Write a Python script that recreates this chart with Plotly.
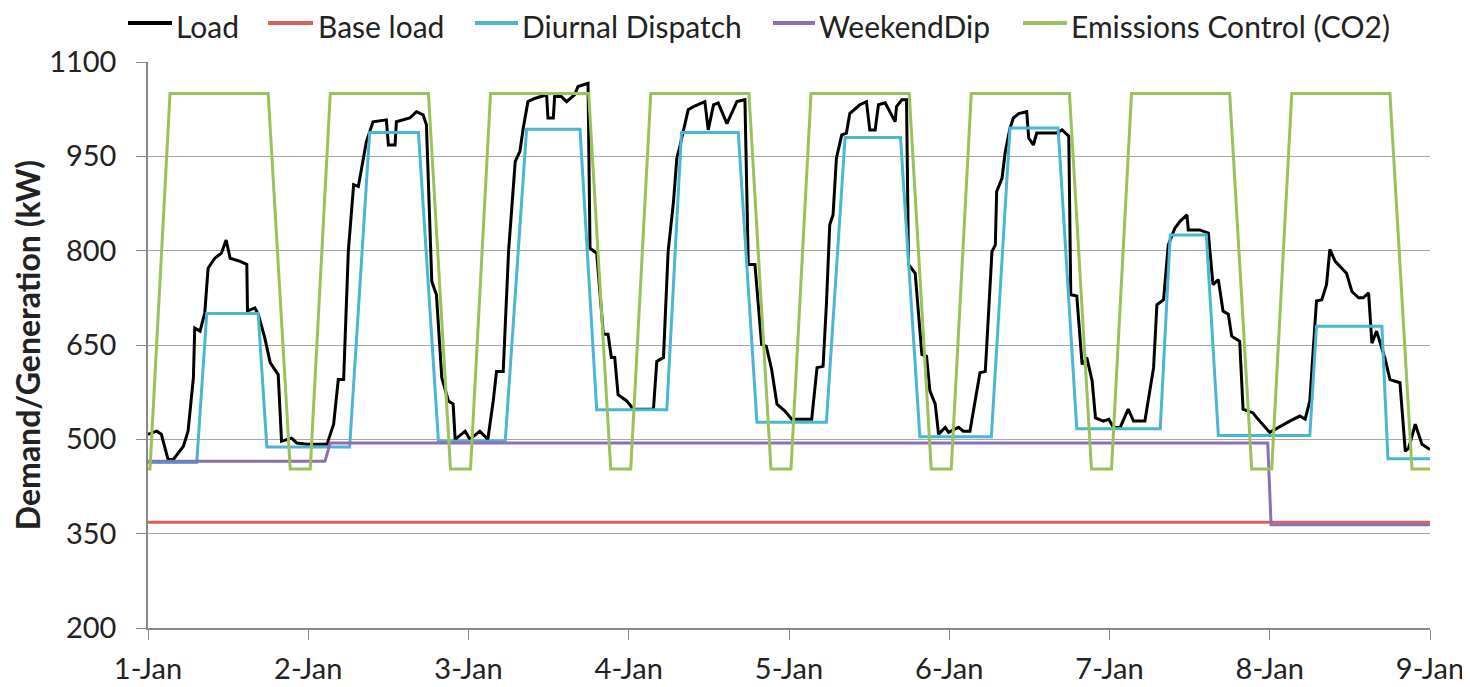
import pandas as pd
import plotly.graph_objects as go

# hours since 1-Jan 00:00 and kW values
load_hours = [
    0.0, 1.3, 2.0, 3.0, 3.8, 5.3, 6.0, 6.8, 7.0, 7.8, 8.5, 9.0, 10.0, 11.0, 11.7, 12.3,
    13.8, 14.8, 14.9, 16.0, 16.5, 17.5, 18.3, 19.5, 20.0, 21.5, 22.3, 23.8, 26.8, 27.8,
    28.5, 29.3, 30.0, 30.8, 31.5, 32.0, 32.7, 33.7, 35.7, 36.0, 37.0, 37.2, 39.2, 40.2,
    41.2, 41.7, 42.5, 43.2, 44.0, 45.0, 45.7, 46.0, 47.5, 48.2, 49.7, 50.9, 51.7, 52.2,
    53.2, 54.0, 54.2, 55.0, 55.7, 56.2, 56.9, 57.9, 59.7, 59.9, 60.7, 60.9, 61.9, 62.7,
    63.9, 64.4, 65.9, 66.2, 67.2, 68.2, 68.9, 69.4, 69.9, 70.4, 71.7, 72.7, 75.7, 76.2,
    77.2, 77.9, 78.7, 79.2, 79.7, 80.9, 81.7, 83.4, 83.9, 84.7, 85.4, 86.7, 88.2, 89.4,
    89.9, 90.9, 91.9, 92.6, 93.4, 94.2, 95.4, 96.4, 97.2, 99.4, 100.2, 101.1, 101.6,
    102.1, 102.6, 103.1, 103.9, 104.6, 105.1, 106.6, 107.6, 108.1, 108.9, 109.4, 110.4,
    111.1, 111.9, 112.1, 112.9, 113.6, 113.9, 114.9, 115.9, 116.6, 117.1, 117.9, 118.4,
    119.4, 119.9, 121.4, 122.1, 123.1, 123.9, 124.6, 125.4, 126.4, 126.9, 127.1, 127.9,
    128.4, 129.1, 129.6, 130.4, 131.6, 131.9, 132.6, 133.1, 136.1, 136.9, 137.9, 138.2,
    139.1, 139.9, 140.6, 141.4, 141.9, 143.1, 143.9, 144.6, 145.6, 146.8, 147.6, 149.3,
    150.1, 150.6, 151.1, 152.1, 152.8, 153.8, 154.6, 155.6, 155.8, 157.5, 158.8, 159.5,
    160.3, 161.0, 161.8, 162.3, 163.5, 164.0, 165.5, 166.0, 168.0, 169.3, 171.0, 172.5,
    173.3, 174.0, 175.0, 175.8, 176.5, 177.0, 177.8, 179.5, 180.3, 181.3, 182.0, 182.8,
    183.3, 184.0, 185.3, 186.0, 187.5, 188.3, 188.8, 189.8, 190.8, 192.0,
]
load_kw = [
    508, 513, 508, 468, 468, 489, 513, 598, 677, 672, 701, 772, 788, 796, 817, 788,
    783, 778, 704, 709, 699, 661, 622, 603, 497, 502, 494, 492, 492, 524,
    595, 595, 799, 905, 902, 934, 973, 1005, 1008, 968, 968, 1005, 1011, 1021,
    1016, 1000, 751, 730, 598, 561, 556, 500, 513, 500, 513, 500, 561, 608,
    608, 799, 825, 942, 958, 995, 1037, 1042, 1048, 1011, 1011, 1045, 1045, 1037,
    1048, 1061, 1066, 804, 796, 667, 667, 630, 630, 571, 561, 548, 548, 624,
    630, 799, 878, 947, 968, 1024, 1029, 1037, 992, 1032, 1035, 1002, 1037, 1040,
    778, 778, 651, 648, 611, 556, 545, 532, 532, 532, 614, 616, 714,
    841, 857, 947, 984, 987, 1018, 1032, 1037, 992, 992, 1032, 1035,
    1021, 1005, 1029, 1040, 1040, 778, 764, 635, 632, 577, 556, 508,
    519, 511, 519, 513, 513, 566, 606, 608, 799, 809, 894, 915,
    958, 995, 1011, 1018, 1021, 979, 968, 987, 987, 992, 982, 730,
    728, 619, 630, 593, 534, 529, 532, 519, 519, 548, 529, 529,
    582, 614, 714, 722, 809, 836, 847, 857, 833, 833, 828, 746,
    754, 704, 699, 664, 656, 548, 542, 535, 511, 519, 529, 537,
    532, 561, 720, 722, 746, 802, 783, 764, 735, 725, 725, 733,
    653, 672, 627, 595, 590, 481, 486, 524, 492, 484,
]

base_hours = [0, 192]
base_kw = [368, 368]

dispatch_hours = [
    0, 7.3, 8.8, 16.5, 17.8, 30.2, 33.2, 40.5, 43.5, 53.5, 56.7, 64.7, 67.2, 77.7,
    79.9, 88.4, 91.2, 101.6, 104.4, 112.7, 115.6, 126.3, 129.1, 136.3, 139.1, 151.6,
    153.1, 158.5, 160.3, 174.0, 175.0, 184.8, 185.7, 192,
]
dispatch_kw = [
    463, 463, 700, 700, 488, 488, 988, 988, 497, 497, 993, 993, 547, 547,
    988, 988, 527, 527, 980, 980, 504, 504, 995, 995, 517, 517,
    825, 825, 506, 506, 680, 680, 469, 469,
]

weekend_hours = [0, 26.5, 27.3, 167.7, 168.2, 192]
weekend_kw = [465, 465, 494, 494, 364, 364]

co2_hours = [
    0, 0.3, 3.3, 18, 21.3, 24.3, 27.3, 42, 45.3, 48.3, 51.3, 66, 69.3, 72.3, 75.3,
    90, 93.3, 96.3, 99.3, 114, 117.3, 120.3, 123.3, 138, 141.3, 144.3, 147.3, 162,
    165.3, 168.3, 171.3, 186, 189.3, 192,
]
co2_kw = [
    453, 453, 1050, 1050, 453, 453, 1050, 1050, 453, 453, 1050, 1050, 453, 453, 1050,
    1050, 453, 453, 1050, 1050, 453, 453, 1050, 1050, 453, 453, 1050, 1050,
    453, 453, 1050, 1050, 453, 453,
]

START = pd.Timestamp("2013-01-01")


def to_time(hours):
    return START + pd.to_timedelta(hours, unit="h")


series = [
    ("Load", load_hours, load_kw, "#000000"),
    ("Base load", base_hours, base_kw, "#D9625D"),
    ("Diurnal Dispatch", dispatch_hours, dispatch_kw, "#4BB5D2"),
    ("WeekendDip", weekend_hours, weekend_kw, "#8C70B5"),
    ("Emissions Control (CO2)", co2_hours, co2_kw, "#9BC25A"),
]

# page is drawn inside the body's 8px margin, so the figure is 8px smaller
# plot area: page x 148..1430, page y 62..628
PLOT_L, PLOT_W, PLOT_T, PLOT_H = 148, 1282, 62, 566
FIG_W, FIG_H = 1462, 679


def px_x(page_x):
    return (page_x - PLOT_L) / PLOT_W


def px_y(page_y):
    return (PLOT_T + PLOT_H - page_y) / PLOT_H


# legend drawn by hand to get Excel-like spacing: (sample start, sample end, text start)
legend_pos = [(128, 172, 175), (268, 313, 317), (475, 518, 521), (773, 815, 818), (1023, 1067, 1070)]
LEGEND_Y = 23

FONT = "Lato"
fig = go.Figure()
for (name, hrs, vals, color), (s0, s1, t0) in zip(series, legend_pos):
    fig.add_trace(
        go.Scatter(
            x=to_time(hrs),
            y=vals,
            name=name,
            mode="lines",
            line=dict(color=color, width=3),
        )
    )
    fig.add_shape(
        type="line", xref="paper", yref="paper",
        x0=px_x(s0), x1=px_x(s1), y0=px_y(LEGEND_Y), y1=px_y(LEGEND_Y),
        line=dict(color=color, width=4),
    )
    fig.add_annotation(
        xref="paper", yref="paper", x=px_x(t0), y=px_y(LEGEND_Y + 3),
        text=name, showarrow=False, xanchor="left", yanchor="middle",
        height=36, valign="middle", borderpad=0,
        font=dict(size=30, family=FONT, color="#222222"),
    )

fig.update_layout(
    width=FIG_W,
    height=FIG_H,
    margin=dict(
        l=PLOT_L - 8,
        r=FIG_W - (PLOT_L - 8) - PLOT_W,
        t=PLOT_T - 8,
        b=FIG_H - (PLOT_T - 8) - PLOT_H,
    ),
    plot_bgcolor="white",
    paper_bgcolor="white",
    font=dict(family=FONT, size=29, color="#222222"),
    showlegend=False,
)
fig.update_xaxes(
    type="date",
    range=[START, START + pd.Timedelta(days=8)],
    dtick=86400000,
    tick0=START,
    tickformat="%-d-%b",
    ticks="outside",
    ticklen=10,
    tickcolor="#888888",
    showgrid=False,
    showline=True,
    linecolor="#888888",
    linewidth=1.5,
    zeroline=False,
    automargin=False,
    ticklabelstandoff=4,
    tickfont=dict(size=29),
)
fig.update_yaxes(
    range=[200, 1100],
    tick0=200,
    dtick=150,
    ticks="outside",
    ticklen=10,
    tickcolor="#888888",
    showgrid=True,
    gridcolor="#A6A6A6",
    gridwidth=1,
    showline=True,
    linecolor="#888888",
    linewidth=1.5,
    zeroline=False,
    automargin=False,
    ticklabelstandoff=14,
    tickfont=dict(size=29),
    title=dict(
        text="<b>Demand/Generation (kW)</b>",
        font=dict(size=32),
        standoff=10,
    ),
)

fig.write_html("out.html")
